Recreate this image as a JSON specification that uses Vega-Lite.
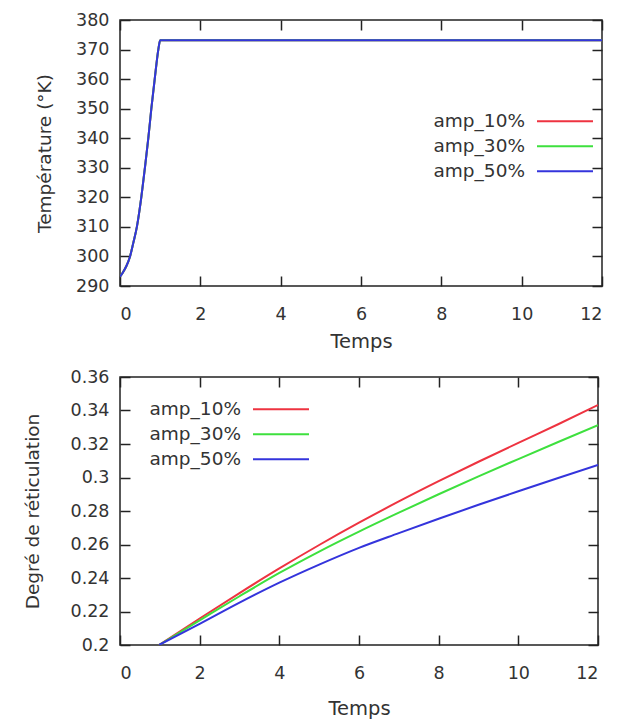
{
  "$schema": "https://vega.github.io/schema/vega-lite/v6.json",
  "padding": {"left": 22, "top": 10, "right": 5, "bottom": 5},
  "background": "white",
  "spacing": 15,
  "resolve": {"legend": {"color": "independent"}},
  "config": {
    "view": {"stroke": "#222222", "strokeWidth": 1.5},
    "font": "DejaVu Sans",
    "axis": {
      "domain": false,
      "grid": false,
      "tickSize": -10,
      "tickColor": "#222222",
      "tickWidth": 1.5,
      "labelFont": "DejaVu Sans",
      "labelFontSize": 17.5,
      "labelColor": "#333333",
      "titleFont": "DejaVu Sans",
      "titleFontSize": 18.5,
      "titleFontWeight": "normal",
      "titleColor": "#333333"
    },
    "axisX": {"labelPadding": 29, "titlePadding": 10, "titleFontSize": 19.5},
    "axisY": {"labelPadding": 21},
    "legend": {
      "orient": "none",
      "padding": 0,
      "labelFont": "DejaVu Sans",
      "labelFontSize": 18.5,
      "labelColor": "#333333",
      "symbolType": "M-8,0H8",
      "symbolSize": 49,
      "symbolStrokeWidth": 2
    }
  },
  "datasets": {
    "temperature": [
      {"t": 0, "T": 293.15, "serie": "amp_10%"},
      {"t": 0.06, "T": 294.3, "serie": "amp_10%"},
      {"t": 0.15, "T": 296.5, "serie": "amp_10%"},
      {"t": 0.25, "T": 300, "serie": "amp_10%"},
      {"t": 0.33, "T": 304.5, "serie": "amp_10%"},
      {"t": 0.42, "T": 310, "serie": "amp_10%"},
      {"t": 0.53, "T": 320, "serie": "amp_10%"},
      {"t": 0.62, "T": 330, "serie": "amp_10%"},
      {"t": 0.705, "T": 340, "serie": "amp_10%"},
      {"t": 0.78, "T": 350, "serie": "amp_10%"},
      {"t": 0.864, "T": 360, "serie": "amp_10%"},
      {"t": 0.954, "T": 370, "serie": "amp_10%"},
      {"t": 1.0, "T": 373.15, "serie": "amp_10%"},
      {"t": 12, "T": 373.15, "serie": "amp_10%"},
      {"t": 0, "T": 293.15, "serie": "amp_30%"},
      {"t": 0.06, "T": 294.3, "serie": "amp_30%"},
      {"t": 0.15, "T": 296.5, "serie": "amp_30%"},
      {"t": 0.25, "T": 300, "serie": "amp_30%"},
      {"t": 0.33, "T": 304.5, "serie": "amp_30%"},
      {"t": 0.42, "T": 310, "serie": "amp_30%"},
      {"t": 0.53, "T": 320, "serie": "amp_30%"},
      {"t": 0.62, "T": 330, "serie": "amp_30%"},
      {"t": 0.705, "T": 340, "serie": "amp_30%"},
      {"t": 0.78, "T": 350, "serie": "amp_30%"},
      {"t": 0.864, "T": 360, "serie": "amp_30%"},
      {"t": 0.954, "T": 370, "serie": "amp_30%"},
      {"t": 1.0, "T": 373.15, "serie": "amp_30%"},
      {"t": 12, "T": 373.15, "serie": "amp_30%"},
      {"t": 0, "T": 293.15, "serie": "amp_50%"},
      {"t": 0.06, "T": 294.3, "serie": "amp_50%"},
      {"t": 0.15, "T": 296.5, "serie": "amp_50%"},
      {"t": 0.25, "T": 300, "serie": "amp_50%"},
      {"t": 0.33, "T": 304.5, "serie": "amp_50%"},
      {"t": 0.42, "T": 310, "serie": "amp_50%"},
      {"t": 0.53, "T": 320, "serie": "amp_50%"},
      {"t": 0.62, "T": 330, "serie": "amp_50%"},
      {"t": 0.705, "T": 340, "serie": "amp_50%"},
      {"t": 0.78, "T": 350, "serie": "amp_50%"},
      {"t": 0.864, "T": 360, "serie": "amp_50%"},
      {"t": 0.954, "T": 370, "serie": "amp_50%"},
      {"t": 1.0, "T": 373.15, "serie": "amp_50%"},
      {"t": 12, "T": 373.15, "serie": "amp_50%"}
    ],
    "reticulation": [
      {"t": 0.98, "d": 0.2, "serie": "amp_10%"},
      {"t": 2, "d": 0.2158, "serie": "amp_10%"},
      {"t": 3, "d": 0.231, "serie": "amp_10%"},
      {"t": 4, "d": 0.2457, "serie": "amp_10%"},
      {"t": 5, "d": 0.2597, "serie": "amp_10%"},
      {"t": 6, "d": 0.273, "serie": "amp_10%"},
      {"t": 7, "d": 0.2857, "serie": "amp_10%"},
      {"t": 8, "d": 0.2978, "serie": "amp_10%"},
      {"t": 9, "d": 0.3094, "serie": "amp_10%"},
      {"t": 10, "d": 0.3207, "serie": "amp_10%"},
      {"t": 11, "d": 0.3318, "serie": "amp_10%"},
      {"t": 12, "d": 0.3433, "serie": "amp_10%"},
      {"t": 0.98, "d": 0.2, "serie": "amp_30%"},
      {"t": 2, "d": 0.2147, "serie": "amp_30%"},
      {"t": 3, "d": 0.2291, "serie": "amp_30%"},
      {"t": 4, "d": 0.243, "serie": "amp_30%"},
      {"t": 5, "d": 0.2558, "serie": "amp_30%"},
      {"t": 6, "d": 0.2677, "serie": "amp_30%"},
      {"t": 7, "d": 0.279, "serie": "amp_30%"},
      {"t": 8, "d": 0.29, "serie": "amp_30%"},
      {"t": 9, "d": 0.3007, "serie": "amp_30%"},
      {"t": 10, "d": 0.311, "serie": "amp_30%"},
      {"t": 11, "d": 0.3212, "serie": "amp_30%"},
      {"t": 12, "d": 0.3313, "serie": "amp_30%"},
      {"t": 0.98, "d": 0.2, "serie": "amp_50%"},
      {"t": 2, "d": 0.2126, "serie": "amp_50%"},
      {"t": 3, "d": 0.2253, "serie": "amp_50%"},
      {"t": 4, "d": 0.2372, "serie": "amp_50%"},
      {"t": 5, "d": 0.248, "serie": "amp_50%"},
      {"t": 6, "d": 0.258, "serie": "amp_50%"},
      {"t": 7, "d": 0.2668, "serie": "amp_50%"},
      {"t": 8, "d": 0.2754, "serie": "amp_50%"},
      {"t": 9, "d": 0.2837, "serie": "amp_50%"},
      {"t": 10, "d": 0.2918, "serie": "amp_50%"},
      {"t": 11, "d": 0.2997, "serie": "amp_50%"},
      {"t": 12, "d": 0.3075, "serie": "amp_50%"}
    ]
  },
  "vconcat": [
    {
      "width": 482,
      "height": 266,
      "data": {"name": "temperature"},
      "resolve": {"axis": {"x": "independent", "y": "independent"}},
      "layer": [
        {
          "mark": {"type": "line", "strokeWidth": 2, "clip": true, "interpolate": "monotone"},
          "encoding": {
            "x": {"field": "t", "type": "quantitative", "scale": {"domain": [0, 12], "nice": false},
                  "axis": {"orient": "bottom", "title": "Temps", "values": [0, 2, 4, 6, 8, 10, 12]}},
            "y": {"field": "T", "type": "quantitative", "scale": {"domain": [290, 380], "nice": false, "zero": false},
                  "axis": {"orient": "left", "title": "Température (°K)", "titlePadding": 21, "values": [290, 300, 310, 320, 330, 340, 350, 360, 370, 380]}},
            "color": {"field": "serie", "type": "nominal",
                      "scale": {"domain": ["amp_10%", "amp_30%", "amp_50%"], "range": ["#ee3340", "#3ee03e", "#3434dc"]},
                      "legend": {"title": null, "legendX": 405, "legendY": 92, "rowPadding": 6,
                                 "encode": {"labels": {"update": {"x": {"value": 0}, "align": {"value": "right"}}},
                                            "symbols": {"update": {"x": {"value": 40}}}}}}
          }
        },
        {
          "mark": {"type": "line", "opacity": 0},
          "encoding": {
            "x": {"field": "t", "type": "quantitative",
                  "axis": {"orient": "top", "title": null, "labels": false, "values": [0, 2, 4, 6, 8, 10, 12]}},
            "y": {"field": "T", "type": "quantitative",
                  "axis": {"orient": "right", "title": null, "labels": false, "values": [290, 300, 310, 320, 330, 340, 350, 360, 370, 380]}}
          }
        }
      ]
    },
    {
      "width": 478,
      "height": 268,
      "data": {"name": "reticulation"},
      "resolve": {"axis": {"x": "independent", "y": "independent"}},
      "layer": [
        {
          "mark": {"type": "line", "strokeWidth": 2, "clip": true, "interpolate": "monotone"},
          "encoding": {
            "x": {"field": "t", "type": "quantitative", "scale": {"domain": [0, 12], "nice": false},
                  "axis": {"orient": "bottom", "title": "Temps", "titlePadding": 18, "values": [0, 2, 4, 6, 8, 10, 12]}},
            "y": {"field": "d", "type": "quantitative", "scale": {"domain": [0.2, 0.36], "nice": false, "zero": false},
                  "axis": {"orient": "left", "title": "Degré de réticulation", "titlePadding": 28, "values": [0.2, 0.22, 0.24, 0.26, 0.28, 0.3, 0.32, 0.34, 0.36], "format": "~g"}},
            "color": {"field": "serie", "type": "nominal",
                      "scale": {"domain": ["amp_10%", "amp_30%", "amp_50%"], "range": ["#ee3340", "#3ee03e", "#3434dc"]},
                      "legend": {"title": null, "legendX": 121, "legendY": 23, "rowPadding": 6,
                                 "encode": {"labels": {"update": {"x": {"value": 0}, "align": {"value": "right"}}},
                                            "symbols": {"update": {"x": {"value": 40}}}}}}
          }
        },
        {
          "mark": {"type": "line", "opacity": 0},
          "encoding": {
            "x": {"field": "t", "type": "quantitative",
                  "axis": {"orient": "top", "title": null, "labels": false, "values": [0, 2, 4, 6, 8, 10, 12]}},
            "y": {"field": "d", "type": "quantitative",
                  "axis": {"orient": "right", "title": null, "labels": false, "values": [0.2, 0.22, 0.24, 0.26, 0.28, 0.3, 0.32, 0.34, 0.36]}}
          }
        }
      ]
    }
  ]
}
